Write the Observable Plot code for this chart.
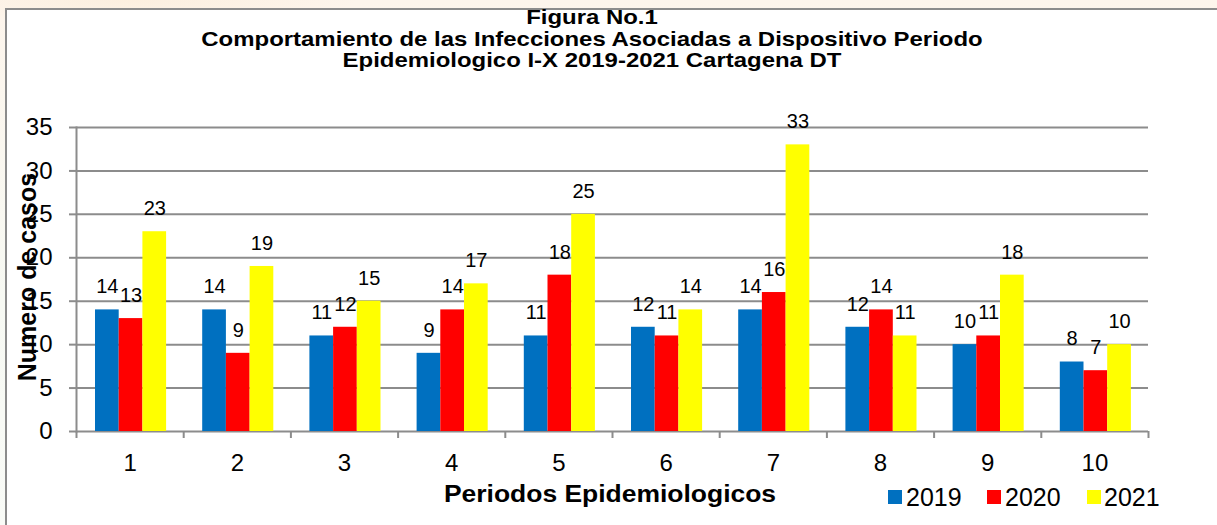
<!DOCTYPE html>
<html>
<head>
<meta charset="utf-8">
<script src="https://cdn.jsdelivr.net/npm/d3@7"></script>
<script src="https://cdn.jsdelivr.net/npm/@observablehq/plot@0.6"></script>
<style>
  html, body { margin: 0; padding: 0; background: #fff; }
  #wrap {
    position: relative; width: 1217px; height: 525px; overflow: hidden;
    font-family: "Liberation Sans", Arial, sans-serif; color: #000;
    background:
      radial-gradient(ellipse 380px 40px at 130px 0px, #fcefdf 0%, #fdf5ec 60%, rgba(255,255,255,0) 100%),
      linear-gradient(180deg, #fdf5ec 0px, #f7f9f3 300px, #f9fbf7 525px);
  }
  #frame {
    position: absolute; left: 5px; top: 8px; width: 1300px; height: 600px;
    background: #fff; border-top: 2px solid #8c8c8c; border-left: 2px solid #8c8c8c;
  }
  #chart { position: absolute; left: 0; top: 0; }
  .tline {
    position: absolute; left: 0; width: 1184px; text-align: center; white-space: nowrap;
    font-weight: bold; font-size: 21px; line-height: 20px;
    transform: scaleX(1.14); transform-origin: 592px 0;
  }
  .xtitle {
    position: absolute; left: 0; width: 1220px; top: 480px; text-align: center;
    font-weight: bold; font-size: 23px; line-height: 28px;
    transform: scaleX(1.15); transform-origin: 610px 0;
  }
  .ytitle {
    position: absolute; left: 27px; top: 277px; white-space: nowrap;
    font-weight: bold; font-size: 25px; line-height: 28px;
    transform: translate(-50%, -50%) rotate(-90deg);
  }
  .leg { position: absolute; top: 483px; font-size: 25px; line-height: 28px; white-space: nowrap; }
  .sw { position: absolute; width: 14px; height: 14px; top: 490px; }
</style>
</head>
<body>
<div id="wrap">
  <div id="frame"></div>
  <div id="chart"></div>
  <div id="title"></div>
  <div class="xtitle" id="xtitle"></div>
  <div class="ytitle" id="ytitle"></div>
  <div id="legend"></div>
</div>
<script>
// ---- data ----
const periods = ["1", "2", "3", "4", "5", "6", "7", "8", "9", "10"];
const years = ["2019", "2020", "2021"];
const cases2019 = [14, 14, 11, 9, 11, 12, 14, 12, 10, 8];
const cases2020 = [13, 9, 12, 14, 18, 11, 16, 14, 11, 7];
const cases2021 = [23, 19, 15, 17, 25, 14, 33, 11, 18, 10];
const yTicks = [0, 5, 10, 15, 20, 25, 30, 35];
const seriesColors = ["#0070C0", "#FF0000", "#FFFF00"];
const titleLines = [
  "Figura No.1",
  "Comportamiento de las Infecciones Asociadas a Dispositivo Periodo",
  "Epidemiologico I-X 2019-2021 Cartagena DT"
];
const xTitle = "Periodos Epidemiologicos";
const yTitle = "Numero de casos";

// ---- build ----
const series = [cases2019, cases2020, cases2021];
const rows = years.flatMap((yr, k) => periods.map((p, i) => ({period: p, year: yr, value: series[k][i]})));

const W = 1217, H = 525, mL = 76, mR = 69, mT = 127, mB = 94;
const bw = (W - mL - mR) / periods.length;
const barW = 23.7;
const offs = [19, 19 + barW, 19 + 2 * barW];
const gray = "#8c8c8c";

const marks = [
  Plot.gridY(yTicks, {stroke: gray, strokeOpacity: 1, strokeWidth: 2}),
  Plot.frame({anchor: "left", stroke: gray, strokeWidth: 2}),
  Plot.axisY({ticks: yTicks, tickSize: 7, tickPadding: 17, stroke: gray, strokeWidth: 2, fill: "#000", fontSize: 24, label: null}),
  Plot.axisX({tickSize: 7, tickFormat: () => "", dx: -bw / 2, stroke: gray, strokeWidth: 2, label: null}),
  Plot.axisX([periods[periods.length - 1]], {tickSize: 7, tickFormat: () => "", dx: bw / 2, stroke: gray, strokeWidth: 2, label: null}),
  Plot.axisX({tickSize: 0, tickPadding: 22, fill: "#000", fontSize: 24, label: null})
];
years.forEach((yr, k) => {
  const d = rows.filter(r => r.year === yr);
  marks.push(Plot.barY(d, {
    x: "period", y: "value", fill: seriesColors[k],
    insetLeft: offs[k], insetRight: bw - offs[k] - barW
  }));
});
years.forEach((yr, k) => {
  const d = rows.filter(r => r.year === yr);
  marks.push(Plot.text(d, {
    x: "period", y: "value", text: r => String(r.value),
    dx: offs[k] + barW / 2 - bw / 2, dy: -23, fontSize: 20, fill: "#000"
  }));
});

const chart = Plot.plot({
  width: W, height: H,
  marginLeft: mL, marginRight: mR, marginTop: mT, marginBottom: mB,
  style: {background: "transparent", fontFamily: "'Liberation Sans', Arial, sans-serif", color: "#000", overflow: "visible"},
  x: {domain: periods, paddingInner: 0, paddingOuter: 0, round: false},
  y: {domain: [0, 35], round: false},
  marks
});
document.getElementById("chart").append(chart);

const titleTops = [7, 28.5, 50];
const title = document.getElementById("title");
titleLines.forEach((line, i) => {
  const el = document.createElement("div");
  el.className = "tline"; el.style.top = titleTops[i] + "px"; el.textContent = line;
  title.append(el);
});
document.getElementById("xtitle").textContent = xTitle;
document.getElementById("ytitle").textContent = yTitle;

const legend = document.getElementById("legend");
const swX = [888, 987, 1087], txX = [906, 1005, 1104];
years.forEach((yr, k) => {
  const s = document.createElement("div");
  s.className = "sw"; s.style.left = swX[k] + "px"; s.style.background = seriesColors[k];
  legend.append(s);
  const t = document.createElement("div");
  t.className = "leg"; t.style.left = txX[k] + "px"; t.textContent = yr;
  legend.append(t);
});
</script>
</body>
</html>
